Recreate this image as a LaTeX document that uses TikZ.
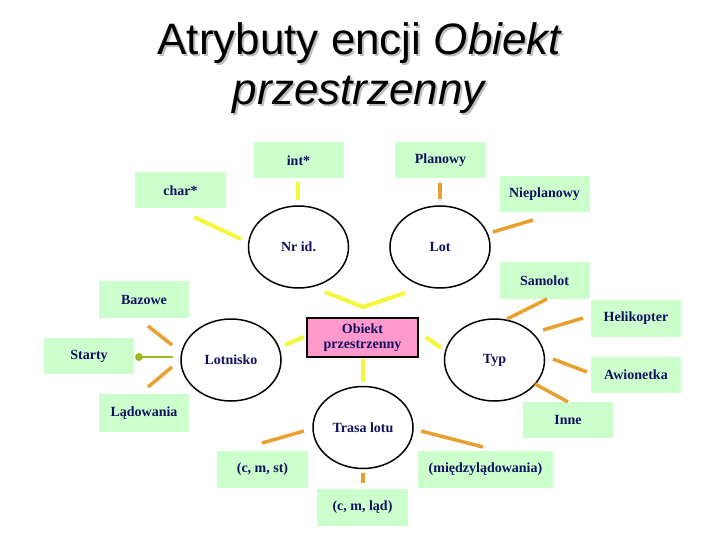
\documentclass[tikz,border=0pt]{standalone}
\usepackage{fontspec}
\setmainfont{Liberation Serif}
\newfontfamily\titlefont{Liberation Sans}
\usetikzlibrary{shapes.geometric}
\definecolor{attrgreen}{HTML}{CCFFCC}
\definecolor{entpink}{HTML}{FF99CC}
\definecolor{navytext}{HTML}{10105F}
\definecolor{ylcol}{HTML}{F6F63A}
\definecolor{olcol}{HTML}{E8A030}
\definecolor{grcol}{HTML}{99BB22}
\definecolor{shadowgray}{HTML}{BEBEBE}
\tikzset{
  attr/.style={fill=attrgreen, minimum width=90pt, minimum height=36pt, inner sep=0pt,
    font=\fontsize{14}{15}\selectfont\bfseries, text=navytext},
  ent/.style={ellipse, draw=black, line width=1.5pt, minimum width=100pt, minimum height=82pt,
    inner sep=0pt, font=\fontsize{14}{15}\selectfont\bfseries, text=navytext},
  yl/.style={draw=ylcol, line width=4pt},
  ol/.style={draw=olcol, line width=3.5pt},
  gl/.style={draw=grcol, line width=1.2pt},
  titletext/.style={font=\titlefont\fontsize{44}{50}\selectfont, anchor=base, inner sep=0pt}
}
\begin{document}
\begin{tikzpicture}[x=1pt,y=-1pt]
\useasboundingbox (0,0) rectangle (720,540);
\fill[white] (0,0) rectangle (720,540);
% title (with soft drop shadow)
\node[titletext, text=shadowgray] (t1s) at (362,57) {Atrybuty encji \textit{Obiekt}};
\node[titletext, text=shadowgray] (t2s) at (362,107) {\textit{przestrzenny}};
\node[titletext] (t1) at (360,55) {Atrybuty encji \textit{Obiekt}};
\node[titletext] (t2) at (360,105) {\textit{przestrzenny}};
% attribute boxes
\node[attr] (int) at (298.5,160.5) {int*};
\node[attr, minimum width=91pt] (char) at (180.5,190.5) {char*};
\node[attr, minimum width=91pt] (plan) at (440.5,160) {Planowy};
\node[attr] (nieplan) at (544.5,194) {Nieplanowy};
\node[attr, minimum height=37pt] (samolot) at (544.5,280.5) {Samolot};
\node[attr, minimum height=37pt] (heli) at (636,318.5) {Helikopter};
\node[attr] (awion) at (636,375) {Awionetka};
\node[attr] (inne) at (568,420) {Inne};
\node[attr, minimum height=37pt] (bazowe) at (144,299.5) {Bazowe};
\node[attr] (starty) at (89,356) {Starty};
\node[attr, minimum height=38pt] (lad) at (144,413) {Lądowania};
\node[attr, minimum width=91pt, minimum height=37pt] (cmst) at (262.5,469.5) {(c, m, st)};
\node[attr, minimum width=135pt, minimum height=37pt] (miedzy) at (485.5,469.5) {(międzylądowania)};
\node[attr, minimum width=91pt, minimum height=37pt] (cmlad) at (362.5,507.5) {(c, m, ląd)};
% entity and attributes
\node[draw=black, line width=1.5pt, fill=entpink, minimum width=111pt, minimum height=39pt,
  inner sep=0pt, align=center, text=navytext,
  font=\fontsize{14}{14.5}\selectfont\bfseries] (obiekt) at (362.5,337.5) {Obiekt\\przestrzenny};
\node[ent] (nrid) at (298.5,247) {Nr id.};
\node[ent] (lot) at (440,247) {Lot};
\node[ent] (lotnisko) at (231,360) {Lotnisko};
\node[ent] (typ) at (494.5,360) {Typ};
\node[ent] (trasa) at (363,427.5) {Trasa lotu};
% yellow connectors
\draw[yl] (298,182) -- (298,200);
\draw[yl] (194,217) -- (241,239);
\draw[yl] (325,292) -- (363,307) -- (405,293);
\draw[yl] (426,337) -- (441,348);
\draw[yl] (363,359) -- (363,382);
\draw[yl] (285,345) -- (304,337);
% orange connectors
\draw[ol] (440,183) -- (440,199);
\draw[ol] (493,232) -- (533,220);
\draw[ol] (507,319) -- (547,299);
\draw[ol] (543,330) -- (583,318);
\draw[ol] (553,359) -- (587,372);
\draw[ol] (535,384) -- (568,402);
\draw[ol] (148,326) -- (172,345);
\draw[ol] (148,387) -- (172,367);
\draw[ol] (262,443) -- (304,431);
\draw[ol] (421,431) -- (483,447);
\draw[ol] (363,473) -- (363,483);
% green connector
\coordinate (stdot) at (139,357);
\draw[gl] (stdot) -- (173,357);
\fill[grcol] (stdot) circle (4pt);
\end{tikzpicture}
\end{document}
